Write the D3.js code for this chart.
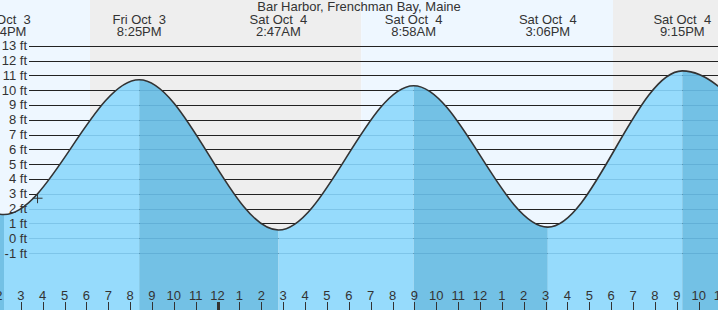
<!DOCTYPE html>
<html><head><meta charset="utf-8">
<script src="https://cdn.jsdelivr.net/npm/d3@7"></script>
<style>
html,body{margin:0;padding:0;background:#fff;}
svg{display:block;font-family:"Liberation Sans",Arial,sans-serif;}
text{white-space:pre;}
</style></head><body>
<svg id="chart" width="718" height="310"></svg>
<script>
const title = "Bar Harbor, Frenchman Bay, Maine";
// tide extremes (first and last lie outside the visible window)
const tideTimes = ["2025-10-03 08:05","2025-10-03 14:14","2025-10-03 20:25","2025-10-04 02:47","2025-10-04 08:58","2025-10-04 15:06","2025-10-04 21:15","2025-10-05 03:30"];
const tideHeights = [10.4, 1.6, 10.7, 0.55, 10.3, 0.75, 11.3, 0.5];
// sunrise / sunset
const sunTimes = ["2025-10-03 06:33","2025-10-03 18:10","2025-10-04 06:34","2025-10-04 18:05","2025-10-05 06:36"];
const sunKinds = ["rise","set","rise","set","rise"];
// y axis tick values (ft)
const yTickValues = [-1,0,1,2,3,4,5,6,7,8,9,10,11,12,13];
// current-time marker
const nowTime = "2025-10-03 15:46";
const nowHeight = 2.7;
// visible time window
const windowStart = "2025-10-03 14:03";
const windowEnd = "2025-10-04 22:53";

const W = 718, H = 310;
const parse = d3.timeParse("%Y-%m-%d %H:%M");
const tides = tideTimes.map((t,i)=>({t:parse(t), h:tideHeights[i]}));
const suns = sunTimes.map((t,i)=>({t:parse(t), kind:sunKinds[i]}));

const x = d3.scaleTime().domain([parse(windowStart), parse(windowEnd)]).range([0, W]);
const y = d3.scaleLinear().domain([-1, 13]).range([253, 45.7]);

const svg = d3.select("#chart");
const C = {day:"#eef7ff", night:"#eeeeee", rise:"#96dbfc", fall:"#73c1e5", text:"#333333"};

// background day/night bands
const bands = [];
const t0 = parse(windowStart), t1 = parse(windowEnd);
let prevT = d3.timeHour.offset(t0, -24);
let prevKind = "set"; // before first sunrise it is night
suns.forEach(s=>{
  bands.push({a:prevT, b:s.t, night: s.kind==="rise"});
  prevT = s.t;
});
svg.append("g").selectAll("rect").data(bands).join("rect")
  .attr("x", d=>x(d.a)).attr("y",0)
  .attr("width", d=>Math.max(0,x(d.b)-x(d.a))).attr("height",H)
  .attr("fill", d=>d.night?C.night:C.day);

// dark gridlines
const grid = svg.append("g");
grid.selectAll("line").data(yTickValues).join("line")
  .attr("x1",29).attr("x2",W)
  .attr("y1",d=>Math.round(y(d))+0.5).attr("y2",d=>Math.round(y(d))+0.5)
  .attr("stroke","#222").attr("stroke-width",1);

// water
const area = d3.area().x(d=>x(d.t)).y0(H).y1(d=>y(d.h)).curve(d3.curveMonotoneX);
const line = d3.line().x(d=>x(d.t)).y(d=>y(d.h)).curve(d3.curveMonotoneX);
svg.append("defs").append("clipPath").attr("id","water")
  .append("path").attr("d", area(tides));
const segs = d3.pairs(tides);
const wg = svg.append("g").attr("clip-path","url(#water)");
wg.selectAll("rect").data(segs).join("rect")
  .attr("x", d=>x(d[0].t)).attr("y",0)
  .attr("width", d=>x(d[1].t)-x(d[0].t)).attr("height",H)
  .attr("fill", d=>d[1].h>d[0].h?C.rise:C.fall);
wg.selectAll("line").data(yTickValues).join("line")
  .attr("x1",29).attr("x2",W)
  .attr("y1",d=>Math.round(y(d))+0.5).attr("y2",d=>Math.round(y(d))+0.5)
  .attr("stroke","rgba(40,120,170,0.22)").attr("stroke-width",1);

// tide curve
svg.append("path").attr("d", line(tides)).attr("fill","none")
  .attr("stroke","#333").attr("stroke-width",1.6);

// y labels
svg.append("g").selectAll("text").data(yTickValues).join("text")
  .attr("x",27).attr("y",d=>y(d)+4.5).attr("text-anchor","end")
  .attr("font-size",13).attr("fill",C.text)
  .text(d=>d+" ft");

// hour ticks
const hours = d3.timeHour.range(d3.timeHour.ceil(d3.timeHour.offset(t0,-1)), d3.timeHour.offset(t1,1));
const hg = svg.append("g");
hg.selectAll("line").data(hours).join("line")
  .attr("x1",d=>Math.round(x(d))+0.5).attr("x2",d=>Math.round(x(d))+0.5)
  .attr("y1",302).attr("y2",H)
  .attr("stroke","#333").attr("stroke-width",d=>d.getHours()===0?3:1);
hg.selectAll("text").data(hours).join("text")
  .attr("x",d=>x(d)).attr("y",300).attr("text-anchor","middle")
  .attr("font-size",13).attr("fill",C.text)
  .text(d3.timeFormat("%-I"));

// title
svg.append("text").attr("x",359).attr("y",11).attr("text-anchor","middle")
  .attr("font-size",13).attr("fill",C.text).text(title);

// event labels
const fDate = d3.timeFormat("%a %b %e"), fTime = d3.timeFormat("%-I:%M%p");
const ev = tides.filter(d=>x(d.t)>-60 && x(d.t)<W+60);
const eg = svg.append("g").selectAll("g").data(ev).join("g");
eg.append("text").attr("x",d=>x(d.t)).attr("y",24).attr("text-anchor","middle")
  .attr("font-size",13).attr("fill",C.text).text(d=>fDate(d.t));
eg.append("text").attr("x",d=>x(d.t)).attr("y",36).attr("text-anchor","middle")
  .attr("font-size",13).attr("fill",C.text).text(d=>fTime(d.t));

// now marker
const nx = x(parse(nowTime)), ny = y(nowHeight);
svg.append("path").attr("d",`M${nx-5},${ny}H${nx+5}M${nx},${ny-5}V${ny+5}`)
  .attr("stroke","#333").attr("stroke-width",1).attr("fill","none");
</script>
</body></html>
